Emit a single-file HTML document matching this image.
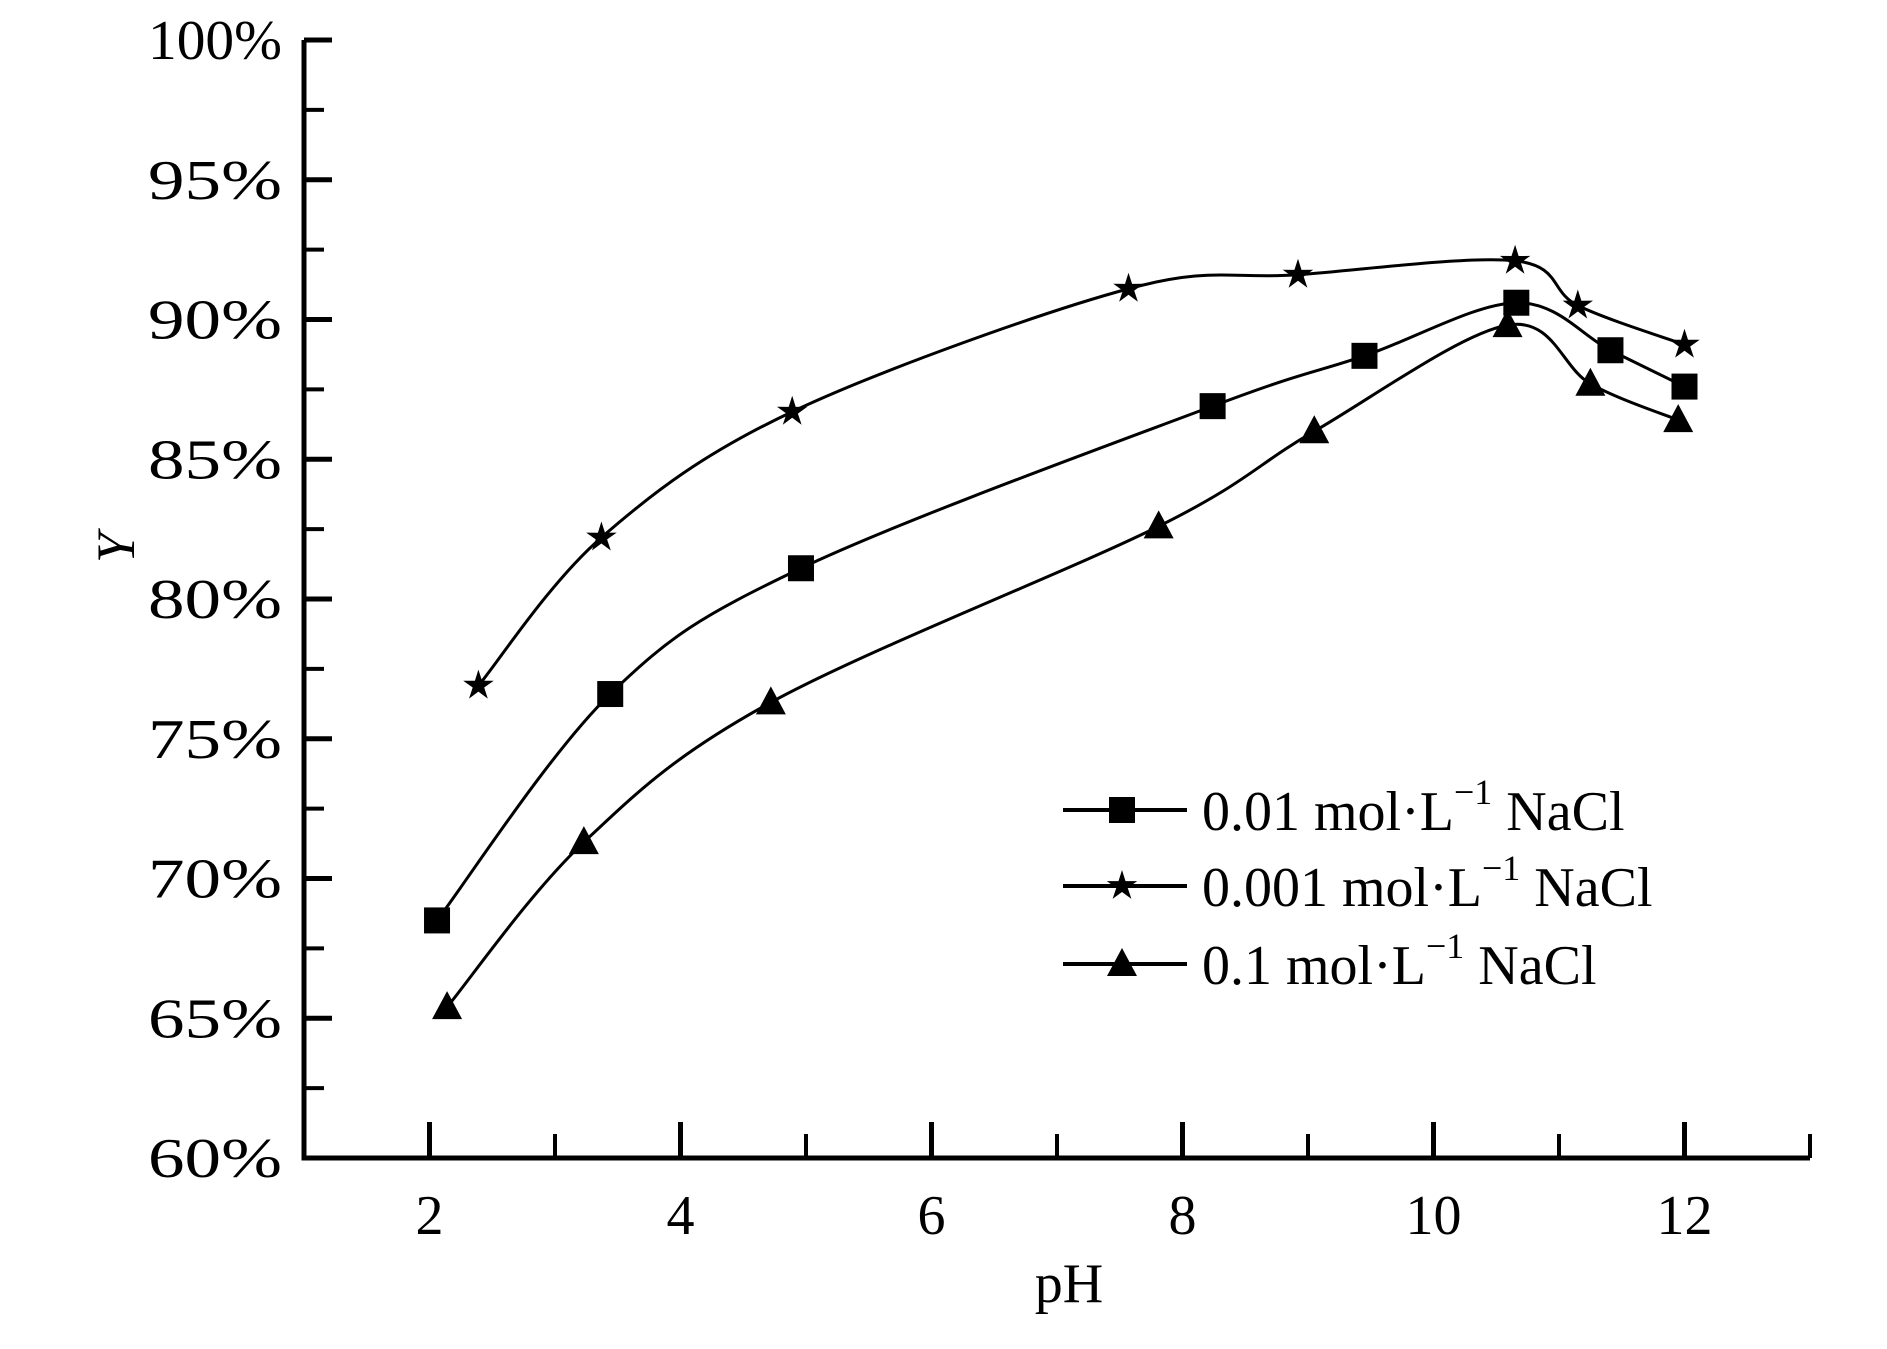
<!DOCTYPE html>
<html><head><meta charset="utf-8"><style>
html,body{margin:0;padding:0;background:#fff;}
svg{display:block;font-family:"Liberation Serif",serif;}
</style></head><body>
<svg id="chart" width="1887" height="1349" viewBox="0 0 1887 1349"></svg>
<script>
const xTicks=[2,4,6,8,10,12];
const xMinorTicks=[3,5,7,9,11,13];
const yTicks=[60,65,70,75,80,85,90,95,100];
const yMinorTicks=[62.5,67.5,72.5,77.5,82.5,87.5,92.5,97.5];
const seriesNames=["0.01 mol·L","0.001 mol·L","0.1 mol·L"];
const sqX=[2.06,3.44,4.96,8.24,9.45,10.66,11.41,12.0];
const sqY=[68.5,76.6,81.1,86.9,88.7,90.6,88.9,87.6];
const stX=[2.39,3.37,4.89,7.57,8.92,10.65,11.15,12.0];
const stY=[76.9,82.2,86.7,91.1,91.6,92.1,90.5,89.1];
const trX=[2.14,3.23,4.72,7.81,9.05,10.59,11.25,11.95];
const trY=[65.4,71.3,76.3,82.6,86.0,89.8,87.7,86.4];

const NS="http://www.w3.org/2000/svg";
const svg=document.getElementById('chart');
const X0=304,X1=1810,XMIN=1,XMAX=13;
const Y0=1158,Y1=40,YMIN=60,YMAX=100;
function sx(v){return X0+(v-XMIN)/(XMAX-XMIN)*(X1-X0);}
function sy(v){return Y0-(v-YMIN)/(YMAX-YMIN)*(Y0-Y1);}
function mk(tag,attrs,parent){const e=document.createElementNS(NS,tag);for(const k in attrs)e.setAttribute(k,attrs[k]);(parent||svg).appendChild(e);return e;}

// axes
let ax=mk('path',{d:`M${X0} ${Y1} V${Y0} H${X1}`,fill:'none',stroke:'#000','stroke-width':5});


yTicks.forEach(t=>{
  const l=mk('line',{x1:X0,x2:X0+28,y1:sy(t),y2:sy(t),stroke:'#000','stroke-width':5});
  
  
  const tx=mk('text',{x:282,y:sy(t)+19,'text-anchor':'end','font-size':56,textLength:134,lengthAdjust:'spacingAndGlyphs'});
  tx.textContent=t+'%';
  
  
});
yMinorTicks.forEach(t=>{
  const l=mk('line',{x1:X0,x2:X0+20,y1:sy(t),y2:sy(t),stroke:'#000','stroke-width':4});
  
  
});
xTicks.forEach(t=>{
  const l=mk('line',{x1:sx(t),x2:sx(t),y1:Y0,y2:Y0-36,stroke:'#000','stroke-width':5});
  
  
  const tx=mk('text',{x:sx(t),y:1234,'text-anchor':'middle','font-size':56});
  tx.textContent=t;
  
  
});
xMinorTicks.forEach(t=>{
  const l=mk('line',{x1:sx(t),x2:sx(t),y1:Y0,y2:Y0-24,stroke:'#000','stroke-width':4});
  
  
});
let xt=mk('text',{x:1069,y:1302,'text-anchor':'middle','font-size':56});
xt.textContent='pH';


let yt=mk('text',{x:0,y:0,'text-anchor':'middle','font-size':54,'font-style':'italic',transform:'translate(134,548) rotate(-90)'});
yt.textContent='Y';



function curve(xs,ys){
  const p=xs.map((x,i)=>[sx(x),sy(ys[i])]);
  let d=`M${p[0][0]} ${p[0][1]}`;
  for(let i=0;i<p.length-1;i++){
    const a=p[i-1]||p[i],b=p[i],c=p[i+1],e=p[i+2]||c;
    d+=` C${b[0]+(c[0]-a[0])/6} ${b[1]+(c[1]-a[1])/6} ${c[0]-(e[0]-b[0])/6} ${c[1]-(e[1]-b[1])/6} ${c[0]} ${c[1]}`;
  }
  return d;
}
function marker(type,x,y,name){
  let e;
  if(type==='sq') e=mk('rect',{x:x-13,y:y-13,width:26,height:26,fill:'#000'});
  else if(type==='tr') e=mk('polygon',{points:`${x},${y-16} ${x+15},${y+12} ${x-15},${y+12}`,fill:'#000'});
  else{
    let pts=[];for(let k=0;k<10;k++){const r=k%2?6:16,a=-Math.PI/2+k*Math.PI/5;pts.push((x+r*Math.cos(a)).toFixed(1)+','+(y+r*Math.sin(a)).toFixed(1));}
    e=mk('polygon',{points:pts.join(' '),fill:'#000'});
  }
  
  
}
const series=[[sqX,sqY,'sq','square'],[stX,stY,'st','star'],[trX,trY,'tr','triangle']];
series.forEach(([xs,ys,t,nm])=>{
  const c=mk('path',{d:curve(xs,ys),fill:'none',stroke:'#000','stroke-width':3});
  
  
  xs.forEach((x,i)=>marker(t,sx(x),sy(ys[i]),nm+'-point'));
});
// legend
const legY=[810,886,964];
[['sq','square'],['st','star'],['tr','triangle']].forEach(([t,nm],i)=>{
  const l=mk('line',{x1:1063,x2:1187,y1:legY[i],y2:legY[i],stroke:'#000','stroke-width':4});
  
  
  marker(t,1122,legY[i],'legend-marker');
  const tx=mk('text',{x:1202,y:legY[i]+20,'font-size':56});
  tx.textContent=seriesNames[i];
  const sp=mk('tspan',{'font-size':36,dy:-26},tx);sp.textContent='−1';
  const sp2=mk('tspan',{dy:26},tx);sp2.textContent=' NaCl';
  
  
});
</script>
</body></html>
